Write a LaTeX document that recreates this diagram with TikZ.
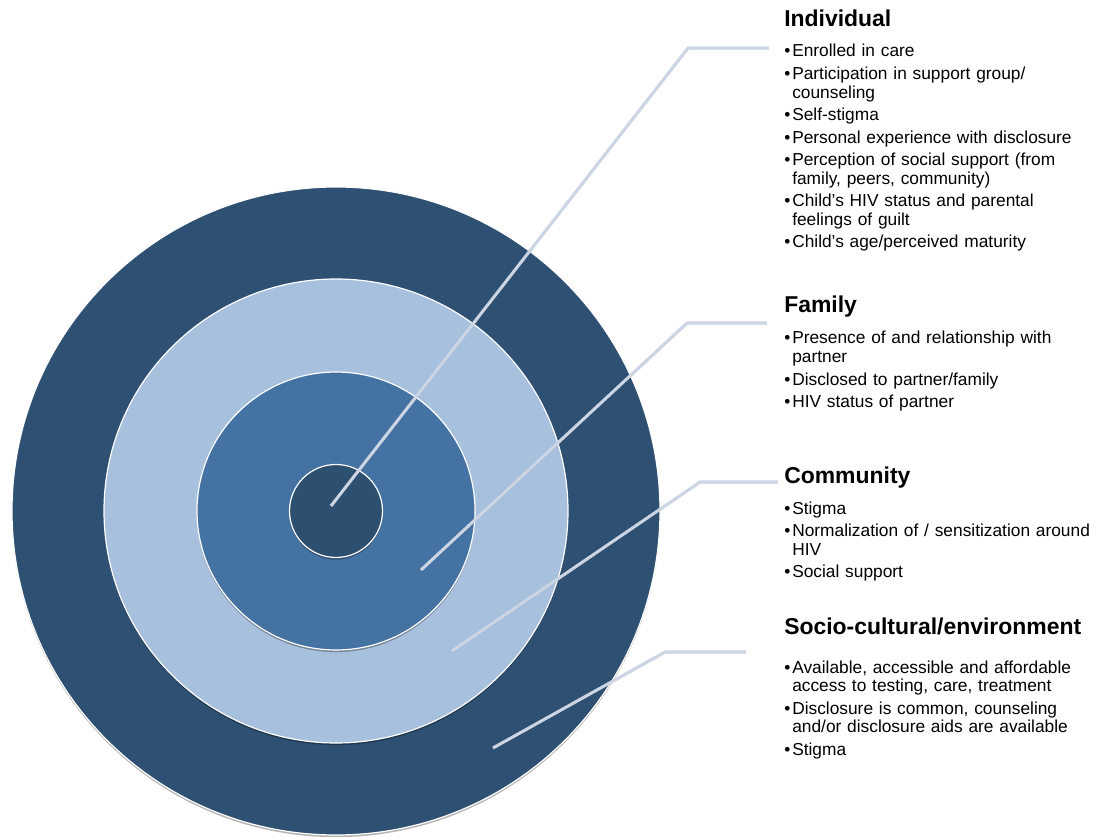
\documentclass[tikz,border=0pt]{standalone}
\usepackage{fontspec}
\setmainfont{Liberation Sans}
\usepackage{tikz}
\usetikzlibrary{positioning, calc, shadows}
\definecolor{mynavy}{RGB}{46,80,114}
\definecolor{mysky}{RGB}{167,192,222}
\definecolor{myblue}{RGB}{68,114,162}
\definecolor{mycore}{RGB}{45,79,112}
\definecolor{myline}{RGB}{203,213,227}
\newcommand{\litem}[1]{\hangindent=6pt\hangafter=1\noindent\makebox[6pt][l]{\textbullet}#1\par}
\newcommand{\nextline}{\hfil\break}
\tikzset{
  ring/.style={circle, draw=white, line width=0.9pt, inner sep=0pt,
    drop shadow={shadow xshift=0pt, shadow yshift=-1.6pt, opacity=0.3, fill=black}},
  headtext/.style={anchor=base west, inner sep=0pt,
    font=\fontsize{17.2}{20}\selectfont\bfseries},
  itemlist/.style={inner sep=0pt, text width=250pt, align=left,
    font=\fontsize{13}{13.9}\selectfont,
    execute at begin node=\setlength{\parskip}{3pt}},
  leader/.style={draw=myline, line width=2.3pt, line join=round,
    preaction={draw=black, opacity=0.12, transform canvas={shift={(0.5pt,-0.9pt)}}}}
}
\begin{document}
\begin{tikzpicture}[x=0.75pt, y=0.75pt]
  \useasboundingbox (-336,-328) rectangle (767,511);

  % Rings
  \node[ring, fill=mynavy, minimum size=486pt] (socring) at (0,0) {};
  \node[ring, fill=mysky, minimum size=348pt] (comring) at (0,0) {};
  \node[ring, fill=myblue, minimum size=208.5pt] (famring) at (0,0) {};
  \node[ring, fill=mycore, minimum size=69.75pt] (indring) at (0,0) {};

  % Headings
  \node[headtext] (indhead) at (448,484) {Individual};
  \node[headtext] (famhead) at (448,198) {Family};
  \node[headtext] (comhead) at (448,27) {Community};
  \node[headtext] (sochead) at (448,-123) {Socio-cultural/environment};

  % Lists
  \node[itemlist, below=22.5pt of indhead.base west, anchor=base west] (indlist) {
    \litem{Enrolled in care}
    \litem{Participation in support group/\nextline counseling}
    \litem{Self-stigma}
    \litem{Personal experience with disclosure}
    \litem{Perception of social support (from\nextline family, peers, community)}
    \litem{Child's HIV status and parental\nextline feelings of guilt}
    \litem{Child's age/perceived maturity}};
  \node[itemlist, below=23.25pt of famhead.base west, anchor=base west] (famlist) {
    \litem{Presence of and relationship with\nextline partner}
    \litem{Disclosed to partner/family}
    \litem{HIV status of partner}};
  \node[itemlist, below=22.5pt of comhead.base west, anchor=base west] (comlist) {
    \litem{Stigma}
    \litem{Normalization of / sensitization around\nextline HIV}
    \litem{Social support}};
  \node[itemlist, below=29.25pt of sochead.base west, anchor=base west] (soclist) {
    \litem{Available, accessible and affordable\nextline access to testing, care, treatment}
    \litem{Disclosure is common, counseling\nextline and/or disclosure aids are available}
    \litem{Stigma}};

  % Leader lines
  \coordinate (indtip) at (-5,5);
  \coordinate (indbend) at (352,463);
  \coordinate (indend) at (433,463);
  \coordinate (famtip) at (85,-59);
  \coordinate (fambend) at (351,188);
  \coordinate (famend) at (431,188);
  \coordinate (comtip) at (116,-140);
  \coordinate (combend) at (364,29);
  \coordinate (comend) at (442,29);
  \coordinate (soctip) at (157,-237);
  \coordinate (socbend) at (329,-141);
  \coordinate (socend) at (410,-141);
  \draw[leader] (indtip) -- (indbend) -- (indend);
  \draw[leader] (famtip) -- (fambend) -- (famend);
  \draw[leader] (comtip) -- (combend) -- (comend);
  \draw[leader] (soctip) -- (socbend) -- (socend);
\end{tikzpicture}
\end{document}
